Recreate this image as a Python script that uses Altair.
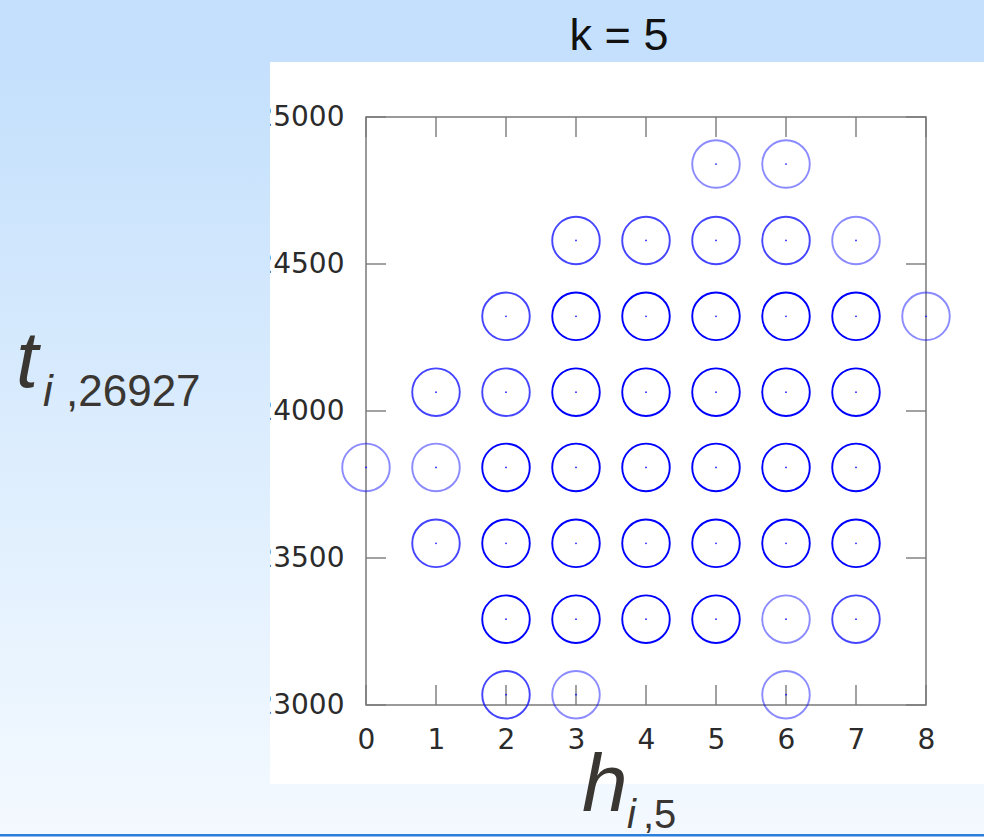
import math
import altair as alt
import pandas as pd

# Occupied cells: t value of each row, the h values present in it,
# and how many samples fall on each cell (drives the circle opacity).
row_t = [24840, 24580, 24322, 24064, 23808, 23550, 23292, 23035]
row_h = [
    [5, 6],
    [3, 4, 5, 6, 7],
    [2, 3, 4, 5, 6, 7, 8],
    [1, 2, 3, 4, 5, 6, 7],
    [0, 1, 2, 3, 4, 5, 6, 7],
    [1, 2, 3, 4, 5, 6, 7],
    [2, 3, 4, 5, 6, 7],
    [2, 3, 6],
]
row_n = [
    [1, 1],
    [2, 2, 2, 2, 1],
    [2, 3, 3, 3, 3, 3, 1],
    [2, 2, 3, 3, 3, 3, 3],
    [1, 1, 3, 3, 3, 3, 3, 3],
    [2, 3, 3, 3, 3, 3, 3],
    [3, 3, 3, 3, 1, 2],
    [2, 1, 1],
]

x_ticks = [0, 1, 2, 3, 4, 5, 6, 7, 8]
y_ticks = [23000, 23500, 24000, 24500, 25000]

records = []
for t, hs, ns in zip(row_t, row_h, row_n):
    for h, n in zip(hs, ns):
        records.append({"h": h, "t": t, "n": n})
cells = pd.DataFrame(records)

# page geometry
W, H = 984, 837
PL, PT, PW, PH = 366, 117, 560, 588

xs = alt.Scale(domain=[0, 8], nice=False, zero=False)
ys = alt.Scale(domain=[23000, 25000], nice=False, zero=False)

blue = "#0000ff"
top_col = (196, 224, 252)
bot_col = (244, 249, 255)


def bg(y):
    f = min(max((y - 60) / (830 - 60), 0), 1)
    c = [round(a + (b - a) * f) for a, b in zip(top_col, bot_col)]
    return "#%02x%02x%02x" % tuple(c)


def grad(y0, y1):
    return {
        "gradient": "linear", "x1": 0, "y1": 0, "x2": 0, "y2": 1,
        "stops": [{"offset": 0, "color": bg(y0)}, {"offset": 1, "color": bg(y1)}],
    }


one = pd.DataFrame({"k": [0]})


def band(x0, x1, y0, y1, fill):
    return alt.Chart(one).mark_rect(color=fill, strokeWidth=0).encode(
        x=alt.value(x0 - PL), x2=alt.value(x1 - PL),
        y=alt.value(y0 - PT), y2=alt.value(y1 - PT),
    )


def label(text, x, y, size, italic=False, color="#3a3632", align="left"):
    return alt.Chart(one).mark_text(
        text=text, font="Liberation Sans", fontSize=size,
        fontStyle="italic" if italic else "normal", color=color,
        align=align, baseline="alphabetic",
    ).encode(x=alt.value(x - PL), y=alt.value(y - PT))


top_band = band(0, W, 0, 62, bg(40))
left_band = band(0, 270, 62, 784, grad(62, 784))
bottom_band = band(0, W, 784, H, grad(784, H))
bottom_line = band(0, W, 834, 836.5, "#2a7fdc")

circles = alt.Chart(cells).mark_point(
    shape="circle", filled=False, size=2260, strokeWidth=1.9, color=blue
).encode(
    x=alt.X("h:Q", scale=xs, axis=alt.Axis(values=x_ticks, format="d")),
    y=alt.Y("t:Q", scale=ys, axis=alt.Axis(values=y_ticks, format="d")),
    opacity=alt.Opacity("n:Q", scale=alt.Scale(domain=[1, 3], range=[0.45, 1]), legend=None),
)
dots = alt.Chart(cells).mark_point(
    shape="circle", filled=True, size=3, color=blue, opacity=0.9
).encode(x=alt.X("h:Q", scale=xs), y=alt.Y("t:Q", scale=ys))

xt = pd.DataFrame({"h": x_ticks})
yt = pd.DataFrame({"t": y_ticks})
tick_style = dict(color="#7a7a7a", strokeWidth=1.4)
ticks = [
    alt.Chart(xt).mark_rule(**tick_style).encode(
        x=alt.X("h:Q", scale=xs), y=alt.value(PH), y2=alt.value(PH - 20)),
    alt.Chart(xt).mark_rule(**tick_style).encode(
        x=alt.X("h:Q", scale=xs), y=alt.value(0), y2=alt.value(20)),
    alt.Chart(yt).mark_rule(**tick_style).encode(
        y=alt.Y("t:Q", scale=ys), x=alt.value(0), x2=alt.value(20)),
    alt.Chart(yt).mark_rule(**tick_style).encode(
        y=alt.Y("t:Q", scale=ys), x=alt.value(PW - 20), x2=alt.value(PW)),
]

texts = [
    label("k = 5", 619, 50, 45, color="#111111", align="center"),
    label("t", 16, 387, 80, italic=True),
    label("i", 43, 406, 44, italic=True),
    label(",26927", 66, 406, 44),
    label("h", 582, 811, 82, italic=True),
    label("i", 627, 828, 40, italic=True),
    label(",5", 643, 828, 40),
]

chart = alt.layer(
    top_band, left_band, bottom_band, bottom_line,
    *ticks, circles, dots, *texts,
).properties(
    width=PW, height=PH,
    padding={"left": PL, "top": PT, "right": W - PL - PW, "bottom": H - PT - PH},
    autosize=alt.AutoSizeParams(type="none"),
    background="#ffffff",
).configure_view(
    stroke="#7a7a7a", strokeWidth=1.5, fill=None,
).configure_axis(
    domain=False, ticks=False, grid=False, title=None,
    labelFont="DejaVu Sans", labelFontSize=28, labelColor="#2b2b2b",
    labelFlush=False, labelOverlap=False, zindex=0,
).configure_axisX(labelPadding=21).configure_axisY(labelPadding=22)

chart.save("out.html", embed_options={"renderer": "svg", "actions": False})
